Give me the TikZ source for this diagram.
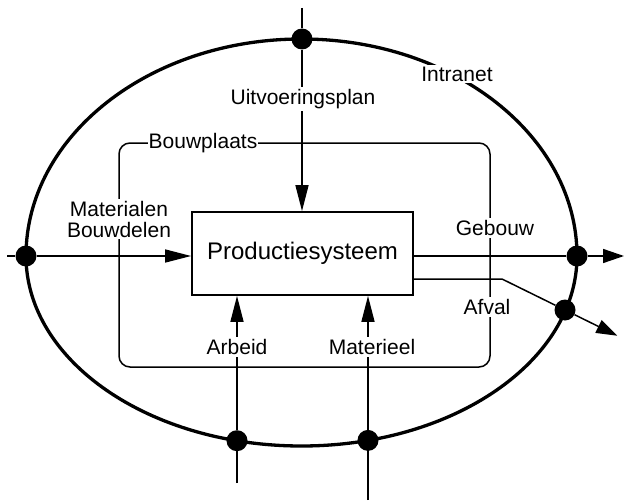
\documentclass[tikz,border=0pt]{standalone}
\usepackage{fontspec}
\setmainfont{Liberation Sans}
\usetikzlibrary{arrows.meta,calc}
\begin{document}
\begin{tikzpicture}[x=1pt,y=-1pt,
  thinline/.style={line width=1.5pt},
  ring/.style={line width=3.3pt},
  arr/.style={thinline,-{Triangle[length=26pt,width=13pt]}},
  arrs/.style={thinline,-{Triangle[length=21pt,width=14pt]}},
  dotnode/.style={circle,fill=black,inner sep=0pt,minimum size=21pt},
  lbl/.style={fill=white,inner sep=2pt,font=\fontsize{21}{21}\selectfont},
  procbox/.style={draw,line width=1.8pt,minimum width=221pt,minimum height=83pt,
    font=\fontsize{24}{26}\selectfont}
]
\useasboundingbox (0,0) rectangle (627,503);

% Intranet ring
\draw[ring] (26,256) arc[start angle=180,end angle=0,x radius=275.5pt,y radius=217pt];
\draw[ring] (26,256) arc[start angle=180,end angle=360,x radius=275.5pt,y radius=190pt];

% Bouwplaats frame
\draw[thinline,rounded corners=11pt] (119,143) rectangle (490,367);

% main box
\node[procbox] (ps) at (302.5,253.5) {Productiesysteem};

% dots on the ring
\node[dotnode] (dT) at (302,39) {};
\node[dotnode] (dL) at (26,256) {};
\node[dotnode] (dR) at (577,256) {};
\node[dotnode] (dA) at (565,310) {};
\node[dotnode] (dB1) at (237,440.7) {};
\node[dotnode] (dB2) at (368,440.4) {};

% free ends
\coordinate (tS) at (302,8);
\coordinate (lS) at (7,256);
\coordinate (rE) at (624,256);
\coordinate (bend) at (502,279);
\coordinate (aE) at ($(bend)!1.83!(dA)$);
\coordinate (b1S) at (237,483);
\coordinate (b2S) at (368,500);

% connectors
\draw[arr] (tS) -- (dT) -- (tS |- ps.north);
\draw[arr] (lS) -- (dL) -- (ps.west |- lS);
\draw[arrs] (ps.east |- rE) -- (dR) -- (rE);
\draw[arrs] (ps.east |- bend) -- (bend) -- (dA) -- (aE);
\draw[arr] (b1S) -- (dB1) -- (b1S |- ps.south);
\draw[arr] (b2S) -- (dB2) -- (b2S |- ps.south);

% labels
\node[lbl] (up) at (303,99) {Uitvoeringsplan};
\node[lbl,align=center] (mb) at (119,219) {Materialen\\Bouwdelen};
\node[lbl,inner sep=1pt] (bp) at (203,143) {Bouwplaats};
\node[lbl] (int) at (457,74) {Intranet};
\node[lbl] (geb) at (495,228) {Gebouw};
\node[lbl] (afv) at (487,307) {Afval};
\node[lbl] (arb) at (237,347) {Arbeid};
\node[lbl] (mat) at (372,347) {Materieel};
\end{tikzpicture}
\end{document}
